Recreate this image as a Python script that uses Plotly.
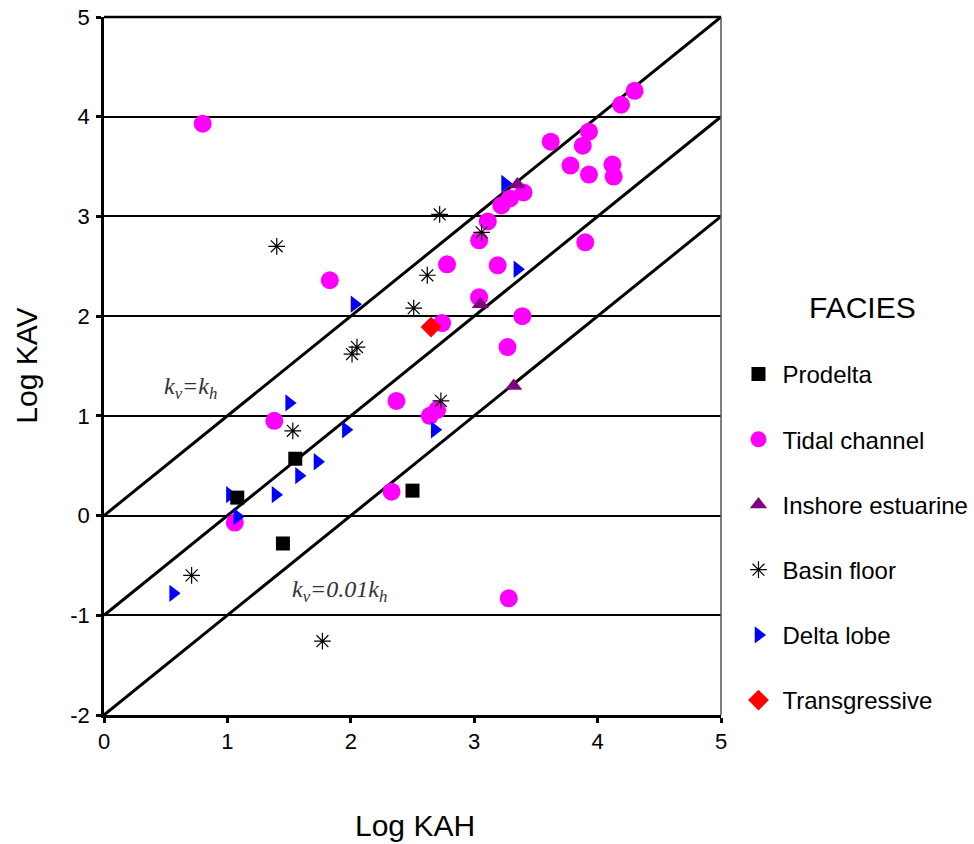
import plotly.graph_objects as go

# ---- data (Log KAH, Log KAV) ----
prodelta_x = [1.55, 1.08, 1.45, 2.50]
prodelta_y = [0.57, 0.18, -0.28, 0.25]

tidal_x = [0.80, 1.83, 1.38, 1.06, 2.33, 2.37, 2.78, 2.74, 2.64, 2.70, 3.04, 3.19, 3.27, 3.39, 3.28,
           3.04, 3.11, 3.22, 3.29, 3.40, 3.62, 3.78, 3.88, 3.93, 3.93, 3.90, 4.12, 4.13, 4.19, 4.30]
tidal_y = [3.93, 2.36, 0.95, -0.07, 0.24, 1.15, 2.52, 1.93, 1.00, 1.06, 2.19, 2.51, 1.69, 2.00, -0.83,
           2.76, 2.95, 3.11, 3.18, 3.24, 3.75, 3.51, 3.71, 3.85, 3.42, 2.74, 3.52, 3.40, 4.12, 4.26]

inshore_x = [3.35, 3.05, 3.32]
inshore_y = [3.32, 2.12, 1.30]

basin_x = [1.40, 2.72, 3.06, 2.62, 2.51, 2.05, 2.01, 1.53, 2.73, 0.71, 1.77]
basin_y = [2.70, 3.02, 2.84, 2.41, 2.08, 1.69, 1.62, 0.85, 1.15, -0.60, -1.26]

delta_x = [2.03, 1.50, 1.96, 1.73, 1.58, 1.39, 1.02, 1.08, 0.56, 2.68, 3.35, 3.25]
delta_y = [2.12, 1.13, 0.86, 0.54, 0.40, 0.21, 0.21, -0.01, -0.78, 0.86, 2.47, 3.33]

trans_x = [2.65]
trans_y = [1.89]

# reference lines: log kv = log kh + offset (kv=kh, kv=0.1kh, kv=0.01kh)
line_offsets = [0, -1, -2]
line_x = [0, 5]

x_ticks = [0, 1, 2, 3, 4, 5]
x_ticktext = ["0", "1", "2", "3", "4", "5"]
y_ticks = [-2, -1, 0, 1, 2, 3, 4, 5]
y_ticktext = ["-2", "-1", "0", "1", "2", "3", "4", "5"]

FONT = "Arial, Liberation Sans, sans-serif"
SERIF = "Liberation Serif, Times New Roman, serif"

# plot-area geometry (pixels)
L, R, T, B = 103.5, 721.5, 16.7, 715.3
W, H = R - L, B - T


def px(x):
    return (x - L) / W


def py(y):
    return (B - y) / H


fig = go.Figure()

for off in line_offsets:
    fig.add_trace(go.Scatter(x=line_x, y=[v + off for v in line_x], mode="lines",
                             line=dict(color="black", width=3), showlegend=False,
                             hoverinfo="skip"))


def add(name, xs, ys, symbol, color, size, rank, line=None):
    m = dict(symbol=symbol, color=color, size=size)
    m["line"] = line if line else dict(width=0)
    fig.add_trace(go.Scatter(x=xs, y=ys, mode="markers", name=name, marker=m,
                             legendrank=rank, legendgroup=name))


add("Tidal channel", tidal_x, tidal_y, "circle", "#FF00FF", 18, 2)
add("Delta lobe", delta_x, delta_y, "triangle-right", "#0000FF", 15, 5)
add("Inshore estuarine", inshore_x, inshore_y, "triangle-up", "#800080", 15, 3)
add("Basin floor", basin_x, basin_y, "asterisk-open", "black", 14, 4,
    line=dict(color="black", width=1.2))
add("Prodelta", prodelta_x, prodelta_y, "square", "black", 14, 1)
add("Transgressive", trans_x, trans_y, "diamond", "#FF0000", 16, 6)

fig.update_layout(
    width=974, height=844,
    margin=dict(l=L, r=974 - R, t=T, b=844 - B, autoexpand=False),
    paper_bgcolor="white", plot_bgcolor="white",
    font=dict(family=FONT, color="black", size=22),
    xaxis=dict(range=[0, 5], tickvals=x_ticks, ticktext=x_ticktext, showgrid=False, zeroline=False,
               showline=True, linecolor="black", linewidth=3,
               ticks="outside", ticklen=5, tickwidth=3, tickcolor="black",
               tickfont=dict(size=22, family=FONT)),
    yaxis=dict(range=[-2, 5], tickvals=y_ticks, ticktext=y_ticktext, showgrid=True,
               gridcolor="black", gridwidth=1.5,
               zeroline=False, showline=True, linecolor="black", linewidth=2.5,
               ticks="outside", ticklen=5, tickwidth=3, tickcolor="black",
               ticklabelstandoff=2,
               tickfont=dict(size=22, family=FONT)),
    legend=dict(x=px(735), xanchor="left", y=py(352), yanchor="top",
                font=dict(size=24, family=FONT), tracegroupgap=31, itemwidth=38,
                bgcolor="rgba(0,0,0,0)"),
    showlegend=True,
)

# right border and top border
fig.add_shape(type="line", xref="paper", yref="paper", x0=1, x1=1, y0=0, y1=1,
              line=dict(color="#555555", width=1.5))
fig.add_shape(type="line", xref="paper", yref="paper", x0=0, x1=1, y0=1, y1=1,
              line=dict(color="black", width=2.5))

fig.add_annotation(x=0.70, y=1.28, xref="x", yref="y", showarrow=False,
                   xanchor="center", yanchor="middle",
                   text="<i>k<sub>v</sub>=k<sub>h</sub></i>",
                   font=dict(family=SERIF, size=24, color="#333333"))
fig.add_annotation(x=1.91, y=-0.76, xref="x", yref="y", showarrow=False,
                   xanchor="center", yanchor="middle",
                   text="<i>k<sub>v</sub>=0.01k<sub>h</sub></i>",
                   font=dict(family=SERIF, size=24, color="#333333"))

# axis titles and legend heading
fig.add_annotation(x=px(415), y=py(826), xref="paper", yref="paper", xanchor="center",
                   yanchor="middle", text="Log KAH", showarrow=False,
                   font=dict(size=30, family=FONT))
fig.add_annotation(x=px(25), y=py(366), xref="paper", yref="paper", xanchor="center",
                   yanchor="middle", text="Log KAV", showarrow=False, textangle=-90,
                   font=dict(size=30, family=FONT))
fig.add_annotation(x=px(863), y=py(307), xref="paper", yref="paper", xanchor="center",
                   yanchor="middle", text="FACIES", showarrow=False,
                   font=dict(size=30, family=FONT))

fig.write_html("out.html")
